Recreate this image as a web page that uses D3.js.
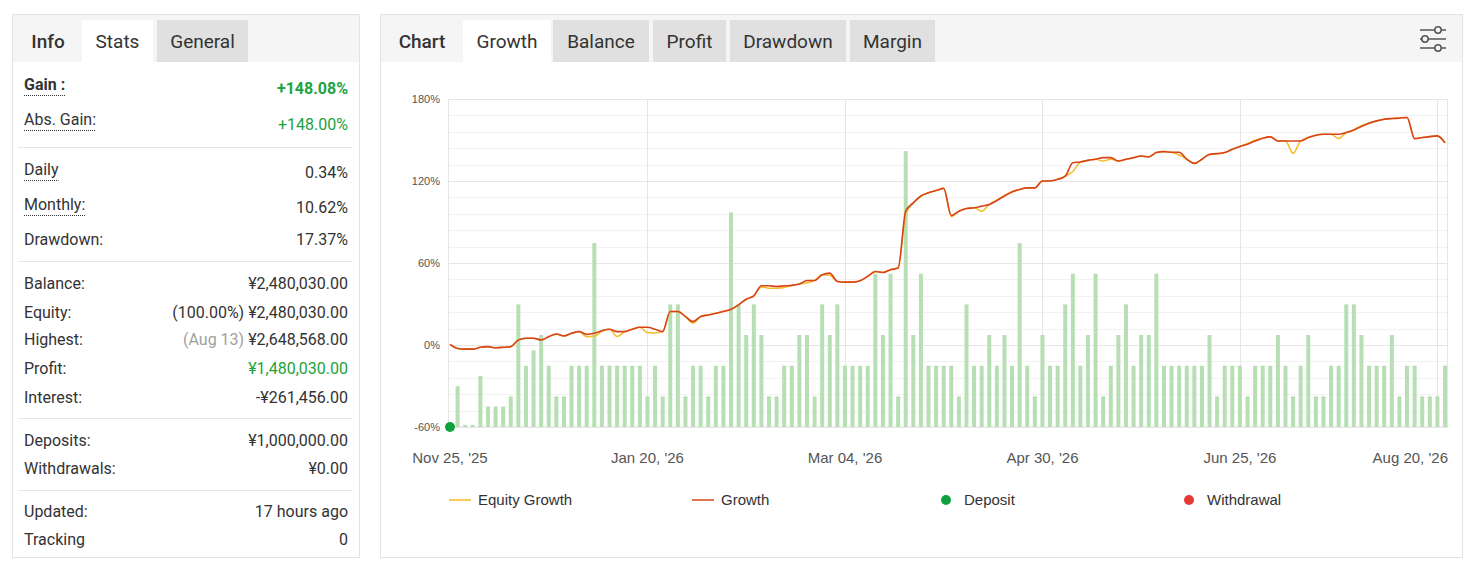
<!DOCTYPE html>
<html>
<head>
<meta charset='utf-8'>
<script src='https://d3js.org/d3.v7.min.js'></script>
<style>
    body { margin: 0; background: #fff; }
    svg text { font-family: Roboto, "Noto Sans", Arial, sans-serif; }
    .hc text { font-family: "Liberation Sans", Arial, sans-serif; }
</style>
</head>
<body>
<svg id='page' width='1472' height='568'></svg>
<script>

    // ---- data ----
    const statLabels = ['Gain :', 'Abs. Gain:', 'Daily', 'Monthly:', 'Drawdown:', 'Balance:', 'Equity:', 'Highest:',
        'Profit:', 'Interest:', 'Deposits:', 'Withdrawals:', 'Updated:', 'Tracking'];
    const statValues = ['+148.08%', '+148.00%', '0.34%', '10.62%', '17.37%', '¥2,480,030.00', '¥2,480,030.00',
        '¥2,648,568.00', '¥1,480,030.00', '-¥261,456.00', '¥1,000,000.00', '¥0.00', '17 hours ago', '0'];
    const statNotes = ['', '', '', '', '', '', '(100.00%) ', '(Aug 13) ', '', '', '', '', '', ''];

    const leftTabs = ['Info', 'Stats', 'General'];
    const chartTabs = ['Chart', 'Growth', 'Balance', 'Profit', 'Drawdown', 'Margin'];

    const tickIndex = [0, 26, 52, 78, 104, 130];
    const tickLabels = ["Nov 25, '25", "Jan 20, '26", "Mar 04, '26", "Apr 30, '26", "Jun 25, '26", "Aug 20, '26"];
    const yTicks = [-60, 0, 60, 120, 180];

    // growth % per point (index 0 = deposit)
    const growth = [0.5, -2.5, -3, -3, -1.7, -1.2, -2, -1.7, -1.2, 3.7, 4.9, 4.9, 3.7, 6.1, 8.1, 6.6, 8.6, 9.8, 7.8, 8.6,
        10.5, 11.5, 9.8, 9.8, 11.5, 13, 13, 11.5, 9.8, 24.5, 24.5, 20.8, 17.1, 20.8, 22, 23.2, 24.5, 26.2, 29.4, 33.5,
        36, 43.3, 43.3, 42.8, 43.3, 43.6, 44.6, 47.2, 47.2, 51.4, 52.6, 46.5, 46, 46, 47, 50.2, 53.8, 53.1, 55.1, 56.3,
        98, 104, 109, 111.4, 113, 114.6, 94.7, 97.9, 99.9, 100.4, 101.6, 102.8, 105.7, 109, 111.9, 113.8, 115, 115, 120, 120,
        121.2, 123.6, 133.4, 133.9, 135.1, 135.9, 137.1, 137.1, 134.6, 135.9, 137.1, 138.3, 137.6, 140.8, 141.5, 141, 141, 135.9, 132.9, 135.9,
        139.5, 140, 140.8, 143.2, 145.2, 146.9, 149.3, 151.3, 152.3, 149.3, 149.3, 149.3, 149.3, 151.8, 153.5, 154.2, 154.2, 154.2, 155.5, 157.4,
        159.9, 162.3, 164, 165.2, 165.7, 166, 166.5, 151, 151.8, 152.5, 153, 148];

    const equity = [0.5, -2.5, -3, -3, -1.7, -1.2, -2, -1.7, -1.2, 3.7, 4.9, 4.9, 3.7, 6.1, 8.1, 6.6, 8.6, 9.8, 6.1, 6.5,
        10, 11.5, 6.3, 9.8, 11.5, 13, 9.1, 8.8, 9.8, 24.5, 24.5, 20.8, 16, 20.8, 22, 23.2, 24.5, 26.2, 29.4, 33.5,
        36, 42.5, 41.6, 41.6, 42, 43.6, 44.6, 45.5, 47.2, 51.4, 51, 46.5, 46, 46, 47, 50.2, 53.8, 53.1, 55.1, 56.3,
        96, 104, 109, 111.4, 113, 114.6, 94, 97.9, 99.9, 100.4, 97.9, 102.8, 106, 109.5, 112.3, 113.8, 115, 115, 120, 120,
        121.2, 123.6, 127, 133.9, 135.1, 135.9, 134.6, 136, 134.6, 135.9, 137.1, 138.3, 137.6, 140.8, 141.5, 141, 139, 135.9, 132.9, 135.9,
        139.5, 140, 140.8, 143.2, 145.2, 147.5, 149.8, 151.3, 152.3, 149.3, 149.3, 140.3, 149.3, 151.8, 153.5, 154.2, 154.2, 151, 155.5, 157.4,
        160.5, 162.5, 164, 165.2, 165.7, 166, 166.5, 151, 151.8, 152.5, 153, 148];

    // bars for points 1..131 (no axis shown)
    const bars = [1.33, 0.07, 0.07, 1.67, 0.67, 0.67, 0.67, 1, 4, 2, 2.5, 3, 2, 1, 1, 2, 2, 2, 6, 2,
        2, 2, 2, 2, 2, 1, 2, 1, 4, 4, 1, 2, 2, 1, 2, 2, 7, 4, 3, 4,
        3, 1, 1, 2, 2, 3, 3, 1, 4, 3, 4, 2, 2, 2, 2, 5, 3, 5, 1, 9,
        3, 5, 2, 2, 2, 2, 1, 4, 2, 2, 3, 2, 3, 2, 6, 2, 1, 3, 2, 2,
        4, 5, 2, 3, 5, 1, 2, 3, 4, 2, 3, 3, 5, 2, 2, 2, 2, 2, 2, 3,
        1, 2, 2, 2, 1, 2, 2, 2, 3, 2, 1, 2, 3, 1, 1, 2, 2, 4, 4, 3,
        2, 2, 2, 3, 1, 2, 2, 1, 1, 1, 2];

    const legendItems = ['Equity Growth', 'Growth', 'Deposit', 'Withdrawal'];

    // ---- page ----
    const svg = d3.select('#page');
    const green = '#21a33e';

    // left panel
    svg.append('rect').attr('x', 12.5).attr('y', 14.5).attr('width', 347).attr('height', 543)
        .attr('fill', '#fff').attr('stroke', '#e3e3e3');
    svg.append('rect').attr('x', 13).attr('y', 15).attr('width', 346).attr('height', 47).attr('fill', '#f5f5f5');

    const leftTabBox = [[13, 82], [82, 153], [157, 248]];
    const leftTabFill = ['none', '#fff', '#e0e0e0'];
    leftTabs.forEach(function(t, i) {
        const b = leftTabBox[i];
        svg.append('rect').attr('x', b[0]).attr('y', 20).attr('width', b[1] - b[0]).attr('height', 42)
            .attr('fill', leftTabFill[i]);
        svg.append('text').attr('x', i == 0 ? 48 : (b[0] + b[1]) / 2).attr('y', 48).attr('text-anchor', 'middle')
            .attr('font-size', 19).attr('font-weight', i == 0 ? 500 : 400).attr('fill', '#333').text(t);
    });

    const rowY = [84, 119, 169, 204, 239, 283, 312, 339, 368, 397, 440, 468, 511, 539];
    const valY = [88, 124, 172, 207, 239, 283, 312, 339, 368, 397, 440, 468, 511, 539];
    [147, 261, 418, 490].forEach(function(y) {
        svg.append('line').attr('x1', 18).attr('x2', 352).attr('y1', y + 0.5).attr('y2', y + 0.5)
            .attr('stroke', '#e6e6e6');
    });

    statLabels.forEach(function(l, i) {
        const t = svg.append('text').attr('x', 24).attr('y', rowY[i] + 5.5).attr('font-size', 16)
            .attr('font-weight', i == 0 ? 700 : 400).attr('fill', '#333').text(l);
        if (i < 4) {
            const w = t.node().getComputedTextLength();
            svg.append('line').attr('x1', 24).attr('x2', 24 + w).attr('y1', rowY[i] + 11.5).attr('y2', rowY[i] + 11.5)
                .attr('stroke', '#333').attr('stroke-dasharray', '1,1');
        }
        const v = svg.append('text').attr('x', 348).attr('y', valY[i] + 5.5).attr('text-anchor', 'end')
            .attr('font-size', 16).attr('font-weight', i == 0 ? 700 : 400)
            .attr('fill', (i < 2 || i == 8) ? green : '#333');
        if (statNotes[i]) {
            v.append('tspan').attr('fill', i == 7 ? '#a0a0a0' : '#333').text(statNotes[i]);
        }
        v.append('tspan').text(statValues[i]);
    });

    // right panel
    svg.append('rect').attr('x', 380.5).attr('y', 14.5).attr('width', 1082).attr('height', 543)
        .attr('fill', '#fff').attr('stroke', '#e3e3e3');
    svg.append('rect').attr('x', 381).attr('y', 15).attr('width', 1081).attr('height', 47).attr('fill', '#f5f5f5');

    const chartTabBox = [[381, 463], [463, 551], [553, 649], [653, 726], [730, 846], [850, 935]];
    chartTabs.forEach(function(t, i) {
        const b = chartTabBox[i];
        svg.append('rect').attr('x', b[0]).attr('y', 20).attr('width', b[1] - b[0]).attr('height', 42)
            .attr('fill', i == 0 ? 'none' : (i == 1 ? '#fff' : '#e0e0e0'));
        svg.append('text').attr('x', i == 0 ? 422 : (b[0] + b[1]) / 2).attr('y', 48).attr('text-anchor', 'middle')
            .attr('font-size', 19).attr('font-weight', i == 0 ? 500 : 400).attr('fill', '#333').text(t);
    });

    // settings icon
    const icon = svg.append('g').attr('stroke', '#555').attr('stroke-width', 1.5);
    [[30, 1438], [39, 1425], [48, 1438]].forEach(function(p) {
        icon.append('line').attr('x1', 1420).attr('x2', 1446).attr('y1', p[0]).attr('y2', p[0]);
        icon.append('circle').attr('cx', p[1]).attr('cy', p[0]).attr('r', 3.2).attr('fill', '#f5f5f5');
    });

    // ---- chart ----
    const chart = svg.append('g').attr('class', 'hc');
    const x = d3.scaleLinear().domain([0, growth.length - 1]).range([450, 1445]);
    const y = d3.scaleLinear().domain([-60, 180]).range([427, 99]);
    const yBar = d3.scaleLinear().domain([0, 10.7]).range([427, 99]);

    // minor grid
    chart.append('g').selectAll('line').data(d3.range(-60, 181, 12).filter(v => v % 60 != 0)).join('line')
        .attr('x1', 448).attr('x2', 1448).attr('y1', d => Math.round(y(d)) + 0.5).attr('y2', d => Math.round(y(d)) + 0.5)
        .attr('stroke', '#f2f2f2');
    chart.append('g').selectAll('line').data(yTicks).join('line')
        .attr('x1', 448).attr('x2', 1448).attr('y1', d => Math.round(y(d)) + 0.5).attr('y2', d => Math.round(y(d)) + 0.5)
        .attr('stroke', '#e6e6e6');
    chart.append('g').selectAll('line').data(tickIndex.slice(1)).join('line')
        .attr('x1', d => Math.round(x(d)) + 0.5).attr('x2', d => Math.round(x(d)) + 0.5).attr('y1', 99).attr('y2', 427)
        .attr('stroke', '#e6e6e6');
    chart.append('rect').attr('x', 448.5).attr('y', 99.5).attr('width', 999).attr('height', 327.5)
        .attr('fill', 'none').attr('stroke', '#e6e6e6');

    // bars
    chart.append('g').selectAll('rect').data(bars).join('rect')
        .attr('x', (d, i) => x(i + 1) - 2).attr('width', 4)
        .attr('y', d => yBar(d)).attr('height', d => yBar(0) - yBar(d))
        .attr('fill', '#b7dfb3');

    const line = d3.line().x((d, i) => x(i)).y(d => y(d)).curve(d3.curveMonotoneX);
    chart.append('path').datum(equity).attr('d', line).attr('fill', 'none')
        .attr('stroke', '#f5bb25').attr('stroke-width', 1.5);
    chart.append('path').datum(growth).attr('d', line).attr('fill', 'none')
        .attr('stroke', '#d8431b').attr('stroke-width', 1.6);

    // deposit marker
    chart.append('circle').attr('cx', x(0)).attr('cy', y(-60)).attr('r', 5).attr('fill', '#10a03c');

    // y labels
    chart.append('g').selectAll('text').data(yTicks).join('text')
        .attr('x', 440).attr('y', d => y(d) + 4).attr('text-anchor', 'end')
        .attr('font-size', 11).attr('fill', '#555').text(d => d + '%');

    // x labels
    chart.append('g').selectAll('text').data(tickIndex).join('text')
        .attr('x', (d, i) => i == tickIndex.length - 1 ? 1448 : x(d))
        .attr('y', 463).attr('text-anchor', (d, i) => i == tickIndex.length - 1 ? 'end' : 'middle')
        .attr('font-size', 15).attr('fill', '#555').text((d, i) => tickLabels[i]);

    // legend
    const legendX = [449, 692, 946, 1189];
    const lg = chart.append('g');
    legendItems.forEach(function(name, i) {
        if (i < 2) {
            lg.append('line').attr('x1', legendX[i]).attr('x2', legendX[i] + 22).attr('y1', 500).attr('y2', 500)
                .attr('stroke', i == 0 ? '#f5bb25' : '#d8431b').attr('stroke-width', 1.5);
        } else {
            lg.append('circle').attr('cx', legendX[i]).attr('cy', 500).attr('r', 5)
                .attr('fill', i == 2 ? '#10a03c' : '#e53935');
        }
        lg.append('text').attr('x', legendX[i] + (i < 2 ? 29 : 18)).attr('y', 505).attr('font-size', 15)
            .attr('fill', '#333').text(name);
    });

</script>
</body>
</html>
